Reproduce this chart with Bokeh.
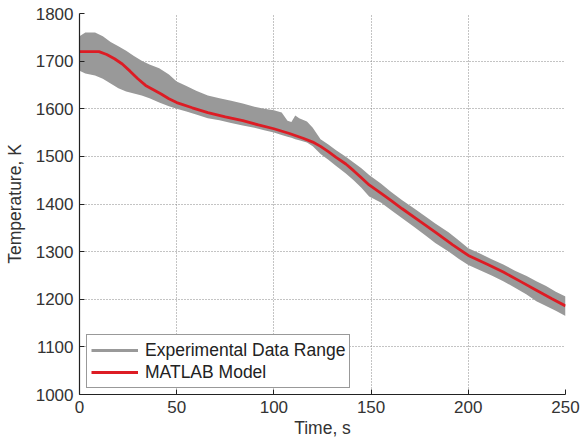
from bokeh.plotting import figure
from bokeh.models import Range1d, Legend, LegendItem, FixedTicker
from bokeh.embed import file_html
from bokeh.resources import INLINE

# Experimental data range (band)
band_t = [0, 3, 8, 12, 16, 20, 24, 28, 32, 36, 41, 46, 50, 55, 60, 66, 72, 78, 84, 90,
          95, 100, 104, 107, 109, 111, 113, 117, 120, 124, 128, 132, 137, 141, 145, 149,
          155, 160, 166, 172, 178, 183, 190, 195, 200, 206, 212, 218, 224, 230, 235, 240,
          245, 250]
band_hi = [1752, 1760, 1760, 1752, 1740, 1731, 1722, 1711, 1701, 1693, 1685, 1672, 1657,
           1648, 1638, 1628, 1622, 1617, 1611, 1604, 1600, 1597, 1592, 1575, 1572, 1586,
           1580, 1573, 1560, 1536, 1525, 1513, 1499, 1487, 1475, 1461, 1443, 1426, 1408,
           1391, 1374, 1359, 1340, 1324, 1307, 1296, 1284, 1273, 1260, 1249, 1238, 1228,
           1216, 1206]
band_lo = [1680, 1674, 1670, 1663, 1653, 1643, 1636, 1632, 1628, 1622, 1613, 1605, 1600,
           1594, 1588, 1580, 1576, 1570, 1565, 1560, 1555, 1550, 1545, 1541, 1539, 1536,
           1534, 1529, 1521, 1505, 1493, 1480, 1464, 1450, 1434, 1416, 1403, 1388, 1370,
           1352, 1334, 1318, 1300, 1285, 1272, 1261, 1250, 1238, 1224, 1210, 1196, 1186,
           1176, 1165]

# MATLAB model
model_t = [0, 5, 10, 14, 18, 22, 26, 30, 34, 38, 42, 46, 50, 58, 66, 75, 84, 92, 100, 108,
           115, 120, 124, 128, 132, 137, 141, 145, 149, 155, 160, 166, 175, 183, 192, 200,
           210, 218, 227, 235, 243, 250]
model_T = [1720, 1720, 1720, 1714, 1705, 1694, 1679, 1663, 1649, 1640, 1631, 1621, 1613,
           1602, 1592, 1583, 1575, 1566, 1558, 1548, 1538, 1530, 1521, 1510, 1498, 1484,
           1470, 1455, 1440, 1423, 1408, 1390, 1364, 1341, 1314, 1292, 1273, 1257, 1237,
           1219, 1201, 1186]

x_ticks = [0, 50, 100, 150, 200, 250]
y_ticks = [1000, 1100, 1200, 1300, 1400, 1500, 1600, 1700, 1800]

FONT = "Liberation Sans"
GRAY = "#999999"
RED = "#dd1c24"

p = figure(width=581, height=444, output_backend="svg", toolbar_location=None,
           x_range=Range1d(0, 250), y_range=Range1d(1000, 1800),
           min_border_left=79, min_border_right=16, min_border_top=13, min_border_bottom=50)
p.outline_line_color = None
p.background_fill_color = "white"
p.border_fill_color = "white"

p.varea(x=band_t, y1=band_lo, y2=band_hi, fill_color=GRAY, fill_alpha=1.0)
# legend proxy for the band (single point: draws no visible line in the plot)
leg_band = p.line(x=band_t[:1], y=band_hi[:1], line_color=GRAY, line_width=3)
model = p.line(x=model_t, y=model_T, line_color=RED, line_width=2.8)

for ax in (p.xaxis[0], p.yaxis[0]):
    ax.axis_line_color = "#222222"
    ax.axis_line_width = 1.2
    ax.major_tick_line_color = "#222222"
    ax.major_tick_in = 5
    ax.major_tick_out = 0
    ax.minor_tick_line_color = None
    ax.major_label_text_font = FONT
    ax.major_label_text_font_size = "17px"
    ax.major_label_text_color = "#333333"
    ax.axis_label_text_font = FONT
    ax.axis_label_text_font_size = "17.5px"
    ax.axis_label_text_font_style = "normal"
    ax.axis_label_text_color = "#333333"

p.xaxis.ticker = FixedTicker(ticks=x_ticks)
p.yaxis.ticker = FixedTicker(ticks=y_ticks)
p.xaxis.axis_label = "Time, s"
p.yaxis.axis_label = "Temperature, K"
p.xaxis.major_label_standoff = 6
p.xaxis.axis_label_standoff = 2
p.yaxis.major_label_standoff = 6
p.yaxis.axis_label_standoff = 8

for g in (p.xgrid[0], p.ygrid[0]):
    g.grid_line_color = "#888888"
    g.grid_line_dash = "1 2"
    g.grid_line_width = 1

legend = Legend(items=[LegendItem(label="Experimental Data Range", renderers=[leg_band]),
                       LegendItem(label="MATLAB Model", renderers=[model])],
                location=(7, 6), padding=4, spacing=0, margin=0,
                glyph_width=47, glyph_height=18, label_height=22, label_standoff=7,
                label_text_font=FONT, label_text_font_size="17.5px", label_text_color="#222222",
                border_line_color="#333333", border_line_width=1.5,
                background_fill_color="white", background_fill_alpha=1.0)
p.add_layout(legend)

open("out.html", "w").write(file_html(p, INLINE))
